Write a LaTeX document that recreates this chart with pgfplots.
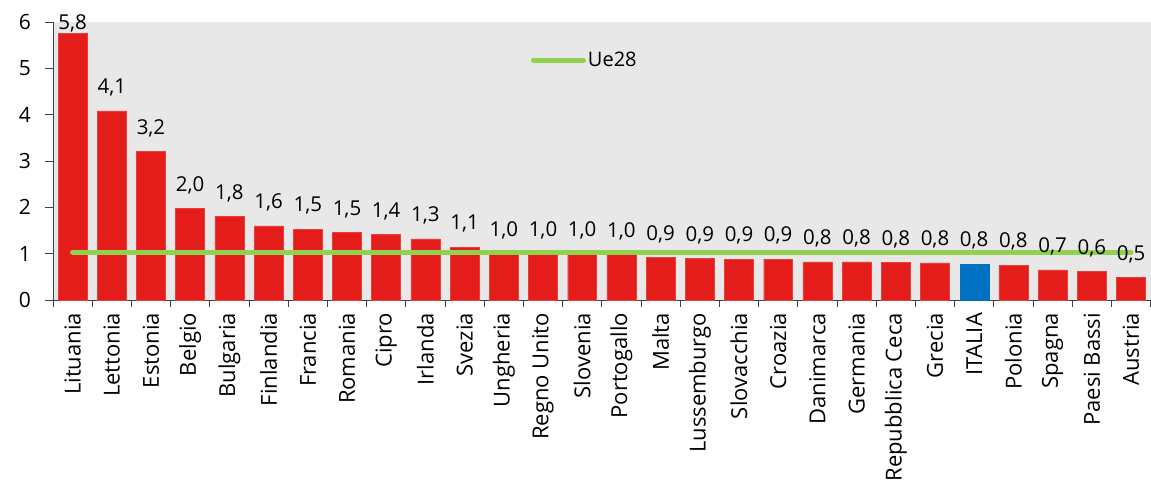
\documentclass[border=0pt]{standalone}
\usepackage{pgfplots}
\usepackage{pgfplotstable}
\pgfplotsset{compat=1.18}
\usepackage{fontspec}
\setmainfont{Open Sans}
\definecolor{barred}{RGB}{228,28,26}
\definecolor{itblue}{RGB}{0,112,192}
\definecolor{uegreen}{RGB}{146,208,80}
\definecolor{bggray}{RGB}{232,232,232}

\pgfplotstableread{
x y lab
1 5.76 5,8
}\first

\pgfplotstableread{
x y lab
2 4.08 4,1
3 3.20 3,2
4 1.97 2,0
5 1.80 1,8
6 1.60 1,6
7 1.53 1,5
8 1.46 1,5
9 1.41 1,4
10 1.32 1,3
11 1.14 1,1
12 1.00 1,0
13 1.00 1,0
14 0.99 1,0
15 0.98 1,0
16 0.92 0,9
17 0.89 0,9
18 0.88 0,9
19 0.88 0,9
20 0.82 0,8
21 0.82 0,8
22 0.81 0,8
23 0.80 0,8
25 0.75 0,8
26 0.65 0,7
27 0.61 0,6
28 0.49 0,5
}\reddata

\pgfplotstableread{
x y lab
24 0.78 0,8
}\italia

\begin{document}
\begin{tikzpicture}
\begin{axis}[
  scale only axis, width=1098pt, height=278pt,
  xmin=0.5, xmax=28.5, ymin=0, ymax=6,
  axis x line*=bottom, axis y line*=left,
  axis line style={black!75, line width=0.8pt},
  axis background/.style={fill=bggray},
  clip=false,
  xtick={1,...,28},
  xticklabels={Lituania,Lettonia,Estonia,Belgio,Bulgaria,Finlandia,Francia,Romania,Cipro,Irlanda,Svezia,Ungheria,Regno Unito,Slovenia,Portogallo,Malta,Lussemburgo,Slovacchia,Croazia,Danimarca,Germania,Repubblica Ceca,Grecia,ITALIA,Polonia,Spagna,Paesi Bassi,Austria},
  major x tick style={draw=none},
  minor xtick={0.5,1.5,...,28.5},
  minor tick length=7pt,
  major tick length=8pt,
  tick align=outside,
  tick style={black!75, line width=0.8pt},
  x tick label style={rotate=90, anchor=east, font=\fontsize{22}{26}\selectfont, inner sep=5pt},
  ytick={0,...,6},
  y tick label style={font=\fontsize{21}{25}\selectfont, inner sep=5pt, xshift=-9pt},
  /pgf/number format/assume math mode=true,
  legend style={draw=none, fill=none, at={(0.4326,0.863)}, anchor=west, font=\fontsize{20}{24}\selectfont},
  legend image code/.code={\draw[#1, line cap=round] (0pt,0pt) -- (50pt,0pt);},
  nodes near coords style={font=\fontsize{20.5}{24}\selectfont, text=black, yshift=11pt},
]
\addplot[ybar, bar width=29pt, bar shift=0pt, fill=barred, draw=barred!85!white, nodes near coords, point meta=explicit symbolic, forget plot, nodes near coords style={yshift=-14pt}]
  table[x=x, y=y, meta=lab] {\first};
\addplot[ybar, bar width=29pt, bar shift=0pt, fill=barred, draw=barred!85!white, nodes near coords, point meta=explicit symbolic, forget plot]
  table[x=x, y=y, meta=lab] {\reddata};
\addplot[ybar, bar width=29pt, bar shift=0pt, fill=itblue, draw=itblue, nodes near coords, point meta=explicit symbolic, forget plot]
  table[x=x, y=y, meta=lab] {\italia};
\addplot[uegreen, line width=5pt, line cap=round, mark=none] coordinates {(1,1.03) (28,1.03)};
\addlegendentry{Ue28}
\end{axis}
\path[use as bounding box] (-53pt,-176pt) rectangle (1098pt,300pt);
\end{tikzpicture}
\end{document}
